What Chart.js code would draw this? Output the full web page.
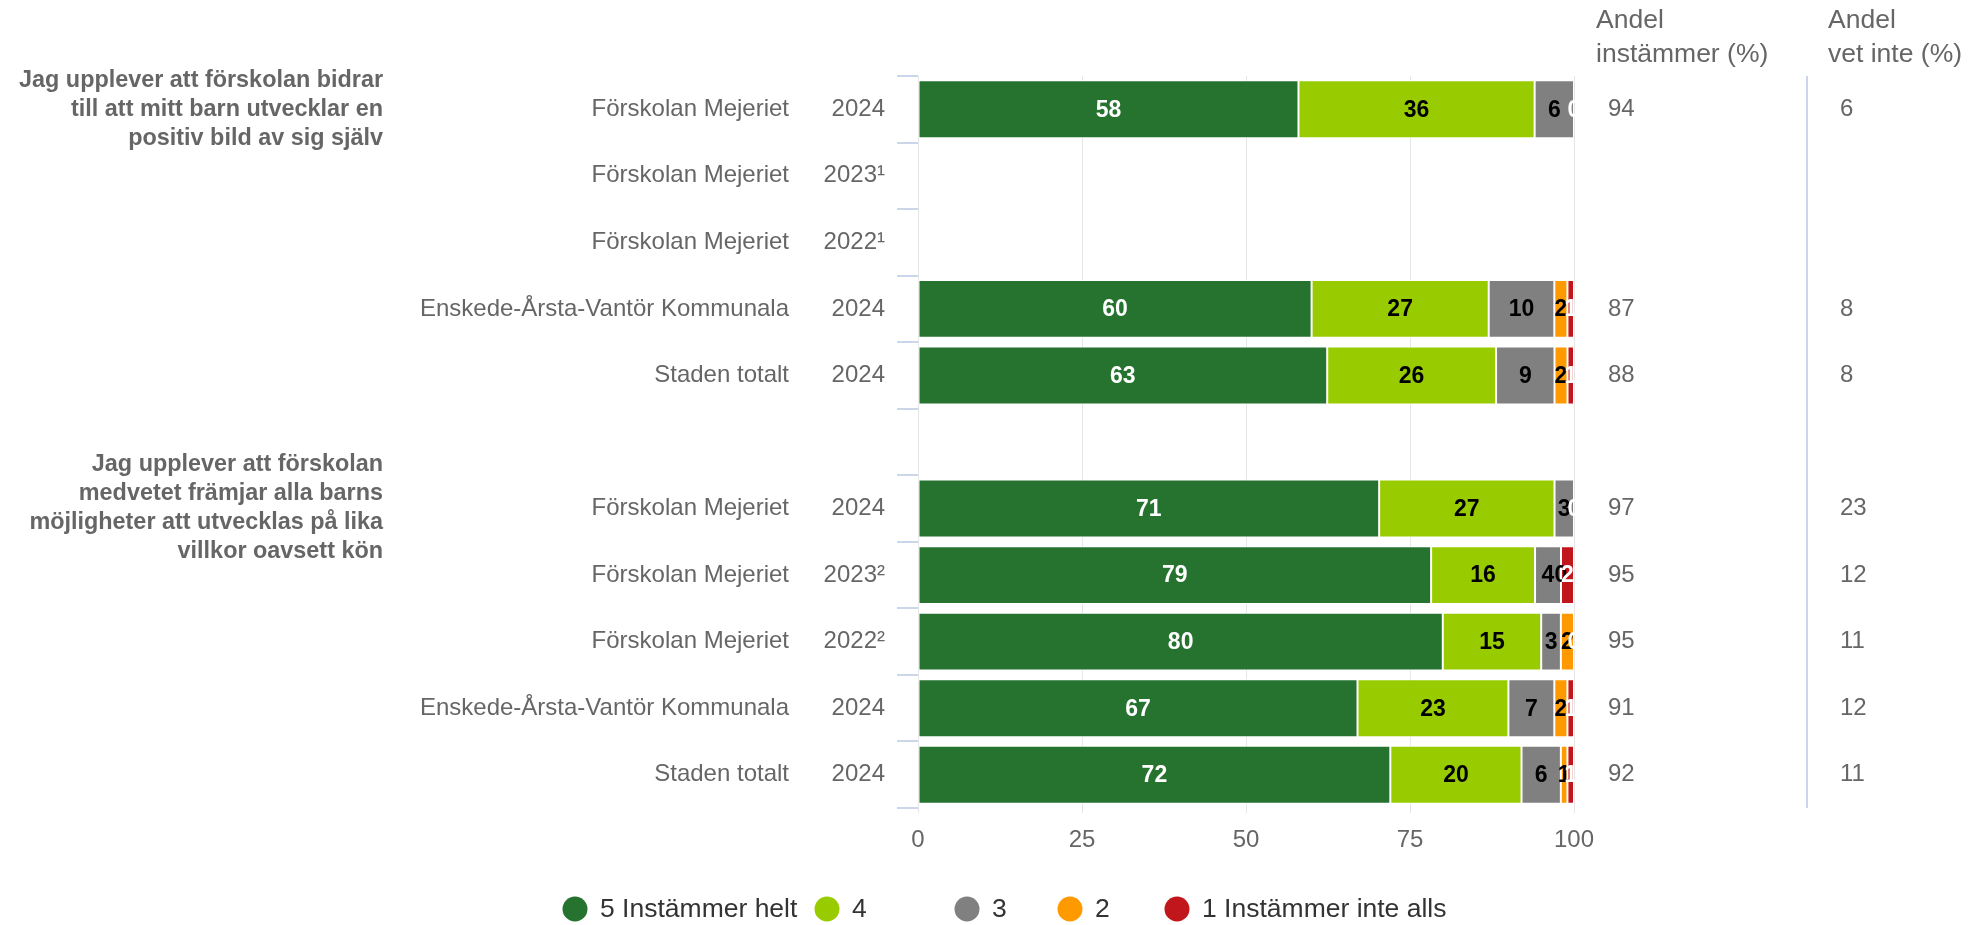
<!DOCTYPE html>
<html>
<head>
<meta charset="utf-8">
<script src="https://cdn.jsdelivr.net/npm/chart.js@4"></script>
<style>
  html, body { margin: 0; padding: 0; background: #fff; }
  #wrap { width: 1970px; height: 925px; }
</style>
</head>
<body>
<div id="wrap"><canvas id="chart" width="1970" height="925"></canvas></div>
<script>
// categories (one empty spacer row between the two questions)
const names = ["Förskolan Mejeriet", "Förskolan Mejeriet", "Förskolan Mejeriet", "Enskede-Årsta-Vantör Kommunala", "Staden totalt", "",
               "Förskolan Mejeriet", "Förskolan Mejeriet", "Förskolan Mejeriet", "Enskede-Årsta-Vantör Kommunala", "Staden totalt"];
const years = ["2024", "2023¹", "2022¹", "2024", "2024", "", "2024", "2023²", "2022²", "2024", "2024"];

// answer shares (%)
const s5 = [58, null, null, 60, 63, null, 71, 79, 80, 67, 72];
const s4 = [36, null, null, 27, 26, null, 27, 16, 15, 23, 20];
const s3 = [6, null, null, 10, 9, null, 3, 4, 3, 7, 6];
const s2 = [null, null, null, 2, 2, null, null, 0, 2, 2, 1];
const s1 = [0, null, null, 1, 1, null, 0, 2, 0, 1, 1];

// side columns
const agree = ["94", "", "", "87", "88", "", "97", "95", "95", "91", "92"];
const dontKnow = ["6", "", "", "8", "8", "", "23", "12", "11", "12", "11"];

const question1 = ["Jag upplever att förskolan bidrar", "till att mitt barn utvecklar en", "positiv bild av sig själv"];
const question2 = ["Jag upplever att förskolan", "medvetet främjar alla barns", "möjligheter att utvecklas på lika", "villkor oavsett kön"];

const seriesNames = ["5 Instämmer helt", "4", "3", "2", "1 Instämmer inte alls"];
const seriesColors = ["#267330", "#99cc00", "#808080", "#ff9900", "#c1161c"];
const labelColors = ["#ffffff", "#000000", "#000000", "#000000", "#ffffff"];

const FONT = "'Liberation Sans', Arial, sans-serif";
const allSeries = [s5, s4, s3, s2, s1];

// rows are drawn as percent stacks (like the original)
const totals = years.map((_, i) => allSeries.reduce((a, s) => a + (s[i] || 0), 0));

const datasets = allSeries.map((s, k) => ({
    label: seriesNames[k],
    data: s.map((v, i) => (v === null ? null : v / totals[i] * 100)),
    raw: s,
    backgroundColor: seriesColors[k],
    borderColor: "#ffffff",
    borderWidth: 1,
    borderSkipped: false,
    barPercentage: 0.87,
    categoryPercentage: 1,
}));

// legend item positions (circle centres), legend drawn below the axis
const legendX = [575, 827, 967, 1070, 1177];
const legendY = 909;

const sidePlugin = {
    id: "side",
    afterDatasetsDraw(chart) {
        const ctx = chart.ctx;
        const y = chart.scales.y;
        const area = chart.chartArea;
        ctx.save();

        // value labels inside the segments
        ctx.textAlign = "center";
        ctx.textBaseline = "middle";
        ctx.font = "bold 23px " + FONT;
        chart.data.datasets.forEach((ds, k) => {
            const meta = chart.getDatasetMeta(k);
            meta.data.forEach((el, i) => {
                const v = ds.raw[i];
                if (v === null) return;
                ctx.fillStyle = labelColors[k];
                ctx.fillText(String(v), (el.x + el.base) / 2, el.y + 1);
            });
        });

        // category names
        ctx.fillStyle = "#666666";
        ctx.textAlign = "right";
        ctx.font = "24px " + FONT;
        names.forEach((n, i) => {
            if (n) ctx.fillText(n, 789, y.getPixelForValue(i));
        });

        // question titles
        ctx.font = "bold 23.4px " + FONT;
        [[question1, 0], [question2, 6]].forEach(([lines, row]) => {
            const cy = y.getPixelForValue(row);
            lines.forEach((t, j) => {
                ctx.fillText(t, 383, cy + (j - (lines.length - 1) / 2) * 29);
            });
        });

        // right-hand columns
        ctx.textAlign = "left";
        ctx.font = "26.5px " + FONT;
        ctx.fillText("Andel", 1596, 21);
        ctx.fillText("instämmer (%)", 1596, 55);
        ctx.fillText("Andel", 1828, 21);
        ctx.fillText("vet inte (%)", 1828, 55);
        ctx.font = "24px " + FONT;
        agree.forEach((t, i) => { if (t) ctx.fillText(t, 1608, y.getPixelForValue(i)); });
        dontKnow.forEach((t, i) => { if (t) ctx.fillText(t, 1840, y.getPixelForValue(i)); });

        ctx.strokeStyle = "#ccd6eb";
        ctx.lineWidth = 2;
        ctx.beginPath();
        ctx.moveTo(1807, area.top);
        ctx.lineTo(1807, area.bottom);
        ctx.stroke();

        // legend
        ctx.font = "26.5px " + FONT;
        seriesNames.forEach((n, k) => {
            ctx.fillStyle = seriesColors[k];
            ctx.beginPath();
            ctx.arc(legendX[k], legendY, 12.5, 0, Math.PI * 2);
            ctx.fill();
            ctx.fillStyle = "#333333";
            ctx.fillText(n, legendX[k] + 25, legendY + 1);
        });
        ctx.restore();
    }
};

new Chart(document.getElementById("chart").getContext("2d"), {
    type: "bar",
    data: { labels: years, datasets: datasets },
    options: {
        indexAxis: "y",
        responsive: false,
        animation: false,
        layout: { padding: { top: 76, left: 0, right: 396, bottom: 47 } },
        scales: {
            x: {
                stacked: true,
                min: 0,
                max: 100,
                ticks: { stepSize: 25, color: "#666666", font: { family: FONT, size: 24 }, padding: 13 },
                grid: { color: "#e6e6e6", tickLength: 5 },
                border: { display: false },
                afterFit: (s) => { s.height = 70; },
            },
            y: {
                stacked: true,
                ticks: { color: "#666666", font: { family: FONT, size: 24 }, padding: 12 },
                grid: { drawOnChartArea: false, color: "#ccd6eb", tickLength: 21, lineWidth: 2 },
                border: { display: false },
                afterFit: (s) => { s.width = 918; },
            },
        },
        plugins: {
            legend: { display: false },
            tooltip: { enabled: false },
        },
    },
    plugins: [sidePlugin],
});
</script>
</body>
</html>
